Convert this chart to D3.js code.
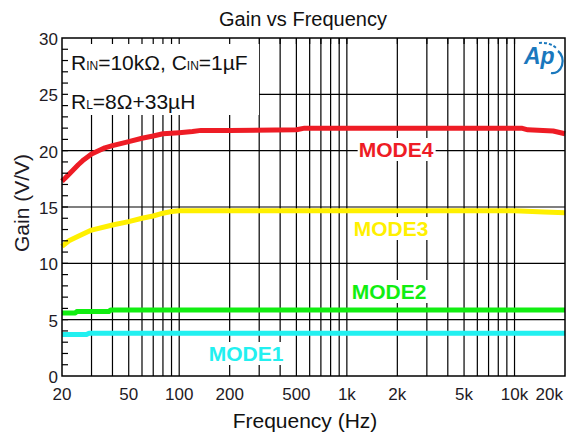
<!DOCTYPE html>
<html>
<head>
<meta charset="utf-8">
<script src="https://cdn.jsdelivr.net/npm/d3@7"></script>
<style>
  body { margin: 0; background: #fff; }
  text { font-family: "Liberation Sans", Arial, sans-serif; }
</style>
</head>
<body>
<div id="visHolder"></div>
<script>
var width = 566;
var height = 437;

// data
var freqMode4 = [20, 21, 23, 25, 27, 30, 33, 36, 40, 50, 60, 70, 80, 100, 120, 135, 200, 500, 560, 1000, 5000, 11000, 12000, 17000, 20000];
var gainMode4 = [17.3, 17.6, 18.2, 18.75, 19.2, 19.7, 20.0, 20.25, 20.45, 20.8, 21.1, 21.3, 21.5, 21.6, 21.7, 21.8, 21.8, 21.85, 22.0, 22.0, 22.0, 22.0, 21.85, 21.75, 21.5];

var freqMode3 = [20, 22, 25, 30, 40, 50, 60, 70, 80, 90, 100, 200, 1000, 10000, 15000, 20000];
var gainMode3 = [11.5, 12.0, 12.4, 12.95, 13.4, 13.7, 14.0, 14.2, 14.45, 14.6, 14.67, 14.67, 14.67, 14.67, 14.55, 14.5];

var freqMode2 = [20, 24, 24.5, 38, 39, 1000, 20000];
var gainMode2 = [5.6, 5.6, 5.72, 5.72, 5.86, 5.86, 5.86];

var freqMode1 = [20, 28, 29, 1000, 20000];
var gainMode1 = [3.68, 3.68, 3.79, 3.79, 3.79];

var modeNames = ["MODE4", "MODE3", "MODE2", "MODE1"];
var modeColors = ["#ee1c25", "#fff000", "#11ee11", "#22f0f0"];
var labelPos = [[396, 157], [391, 236], [389, 299], [246, 361]];

var gridFreqs = [30, 40, 50, 60, 70, 80, 90, 100, 200, 300, 400, 500, 600, 700, 800, 900,
  1000, 2000, 3000, 4000, 5000, 6000, 7000, 8000, 9000, 10000];
var xTicks = [20, 50, 100, 200, 500, 1000, 2000, 5000, 10000, 20000];
var xTickLabels = ["20", "50", "100", "200", "500", "1k", "2k", "5k", "10k", "20k"];
var yTicks = [0, 5, 10, 15, 20, 25, 30];

var plotLeft = 62, plotRight = 565, plotTop = 38, plotBottom = 376;

var svg = d3.select("#visHolder")
  .append("svg")
  .attr("width", width)
  .attr("height", height);

svg.append("rect").attr("width", width).attr("height", height).attr("fill", "#fff");

var xScale = d3.scaleLog().domain([20, 20000]).range([plotLeft, plotRight]);
var yScale = d3.scaleLinear().domain([0, 30]).range([plotBottom, plotTop]);

// grid
svg.append("g")
  .selectAll("line")
  .data(gridFreqs)
  .enter()
  .append("line")
  .attr("x1", d => xScale(d)).attr("x2", d => xScale(d))
  .attr("y1", plotTop).attr("y2", plotBottom)
  .attr("stroke", "#000").attr("stroke-width", 1.2);

svg.append("g")
  .selectAll("line")
  .data(yTicks.filter(d => d > 0 && d < 30))
  .enter()
  .append("line")
  .attr("x1", plotLeft).attr("x2", plotRight)
  .attr("y1", d => yScale(d)).attr("y2", d => yScale(d))
  .attr("stroke", "#000").attr("stroke-width", 1.2);

// white box behind the conditions text
svg.append("rect")
  .attr("x", plotLeft).attr("y", plotTop)
  .attr("width", 197).attr("height", 77)
  .attr("fill", "#fff");

// curves
var line = d3.line()
  .x(d => xScale(d[0]))
  .y(d => yScale(d[1]));

var series = [
  d3.zip(freqMode4, gainMode4),
  d3.zip(freqMode3, gainMode3),
  d3.zip(freqMode2, gainMode2),
  d3.zip(freqMode1, gainMode1)
];

svg.append("g")
  .selectAll("path")
  .data(series)
  .enter()
  .append("path")
  .attr("d", line)
  .attr("fill", "none")
  .attr("stroke", (d, i) => modeColors[i])
  .attr("stroke-width", 5)
  .attr("stroke-linejoin", "round");

// mode labels with white background
var labels = svg.append("g");
modeNames.forEach((name, i) => {
  var g = labels.append("g");
  var bg = g.append("rect").attr("fill", "#fff");
  var t = g.append("text")
    .attr("x", labelPos[i][0])
    .attr("y", labelPos[i][1])
    .attr("text-anchor", "middle")
    .attr("font-size", "21px")
    .attr("font-weight", "bold")
    .attr("fill", modeColors[i])
    .text(name);
  var bb = t.node().getBBox();
  bg.attr("x", bb.x - 1).attr("y", bb.y).attr("width", bb.width + 3).attr("height", bb.height);
});

// minor ticks
svg.append("g")
  .selectAll("line")
  .data(gridFreqs)
  .enter()
  .append("line")
  .attr("x1", d => xScale(d)).attr("x2", d => xScale(d))
  .attr("y1", plotTop).attr("y2", plotTop + 6)
  .attr("stroke", "#000").attr("stroke-width", 1.2);

svg.append("g")
  .selectAll("line")
  .data(d3.range(1, 30))
  .enter()
  .append("line")
  .attr("x1", plotLeft).attr("x2", plotLeft + 6)
  .attr("y1", d => yScale(d)).attr("y2", d => yScale(d))
  .attr("stroke", "#000").attr("stroke-width", 1.2);

// frame
svg.append("rect")
  .attr("x", plotLeft).attr("y", plotTop)
  .attr("width", plotRight - plotLeft).attr("height", plotBottom - plotTop)
  .attr("fill", "none").attr("stroke", "#000").attr("stroke-width", 1.5);

// conditions text
var cond = svg.append("g").attr("font-size", "21px").attr("fill", "#111");
var t1 = cond.append("text").attr("x", 71).attr("y", 70);
t1.append("tspan").text("R");
t1.append("tspan").attr("font-size", "12px").text("IN");
t1.append("tspan").text("=10kΩ, C");
t1.append("tspan").attr("font-size", "12px").text("IN");
t1.append("tspan").text("=1µF");
var t2 = cond.append("text").attr("x", 71).attr("y", 109);
t2.append("tspan").text("R");
t2.append("tspan").attr("font-size", "12px").text("L");
t2.append("tspan").text("=8Ω+33µH");

// logo
var logo = svg.append("g").attr("fill", "#1a78bd").attr("stroke", "#1a78bd");
logo.append("text")
  .attr("x", 524).attr("y", 64)
  .attr("font-size", "23px")
  .attr("font-style", "italic")
  .attr("font-weight", "bold")
  .attr("stroke", "none")
  .text("Ap");
logo.append("path")
  .attr("d", "M539,43 A18,14 0 0,1 557,49")
  .attr("fill", "none").attr("stroke-width", 2).attr("stroke-dasharray", "3,2");
logo.append("path")
  .attr("d", "M558,51 A10,12 0 0,1 551,73")
  .attr("fill", "none").attr("stroke-width", 2.2);

// axis tick labels
svg.append("g")
  .selectAll("text")
  .data(yTicks)
  .enter()
  .append("text")
  .attr("x", 58)
  .attr("y", d => yScale(d) + 7)
  .attr("text-anchor", "end")
  .attr("font-size", "17px")
  .attr("fill", "#1e1a24")
  .text(d => d);

svg.append("g")
  .selectAll("text")
  .data(xTicks)
  .enter()
  .append("text")
  .attr("x", (d, i) => i === xTicks.length - 1 ? 563 : xScale(d))
  .attr("y", 400)
  .attr("text-anchor", (d, i) => i === xTicks.length - 1 ? "end" : "middle")
  .attr("font-size", "17px")
  .attr("fill", "#1e1a24")
  .text((d, i) => xTickLabels[i]);

// titles
svg.append("text")
  .attr("x", 303).attr("y", 26)
  .attr("text-anchor", "middle")
  .attr("font-size", "20px")
  .attr("fill", "#111")
  .text("Gain vs Frequency");

svg.append("text")
  .attr("x", 305).attr("y", 428)
  .attr("text-anchor", "middle")
  .attr("font-size", "21px")
  .attr("fill", "#111")
  .text("Frequency (Hz)");

svg.append("text")
  .attr("transform", "translate(29,203) rotate(-90)")
  .attr("text-anchor", "middle")
  .attr("font-size", "21px")
  .attr("fill", "#1e1a24")
  .text("Gain (V/V)");
</script>
</body>
</html>
